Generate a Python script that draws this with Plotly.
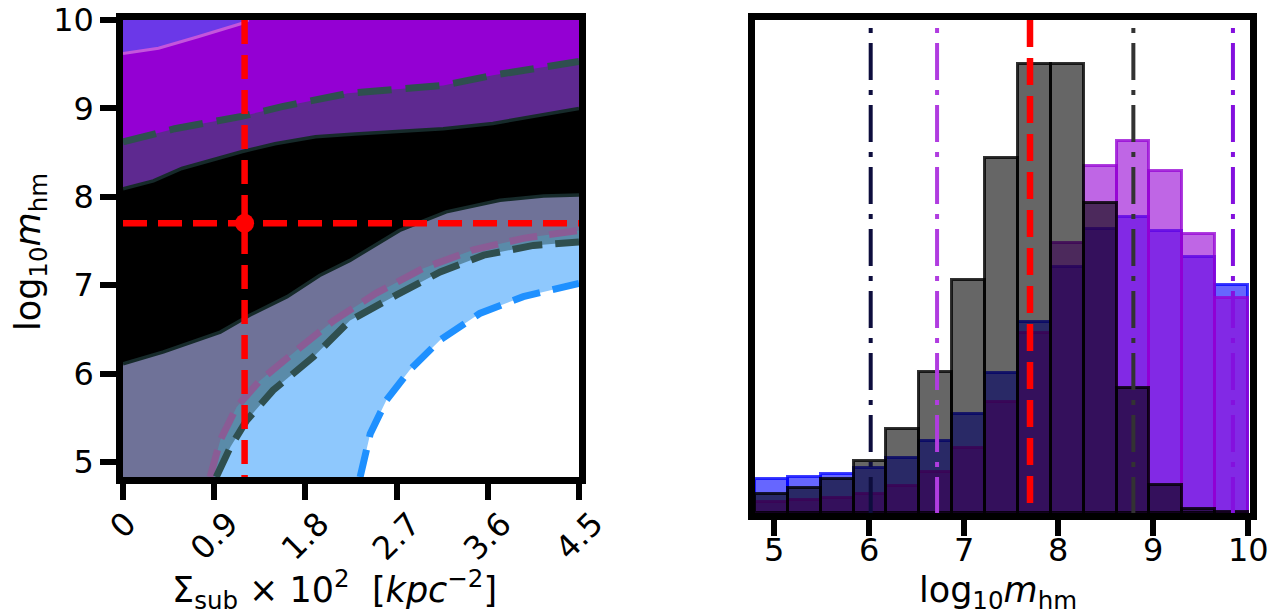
import plotly.graph_objects as go

W, H = 1279, 616
OFF = 8                      # default page body margin of the html page
FW, FH = W - OFF, H - OFF    # figure size that fits inside the window
FONT = "DejaVu Sans"

# ---------------- Left panel: credible-region boundaries -------------
orchid_top_x = [0.00, 0.35, 0.74, 1.17, 1.24]
orchid_top_y = [9.62, 9.68, 9.81, 9.96, 10.00]

slate_upper_x = [0.00, 0.51, 1.17, 1.57, 2.22, 2.51, 3.16, 3.65, 4.15, 4.50]
slate_upper_y = [8.62, 8.77, 8.91, 9.02, 9.17, 9.20, 9.26, 9.375, 9.47, 9.53]

black_upper_x = [0.00, 0.30, 0.58, 1.17, 1.50, 1.90, 2.29, 3.16, 3.65, 3.99, 4.50]
black_upper_y = [8.09, 8.18, 8.32, 8.51, 8.60, 8.68, 8.71, 8.77, 8.83, 8.90, 9.00]

black_lower_x = [0.00, 0.40, 0.96, 1.25, 1.62, 1.94, 2.24, 2.73, 3.19, 3.72, 4.15, 4.50]
black_lower_y = [6.11, 6.245, 6.47, 6.66, 6.87, 7.11, 7.28, 7.62, 7.83, 7.96, 8.01, 8.02]

pink_x = [0.86, 0.96, 1.12, 1.35, 1.71, 2.08, 2.50, 2.96, 3.46, 3.95, 4.50]
pink_y = [4.83, 5.245, 5.62, 5.92, 6.26, 6.60, 6.91, 7.19, 7.40, 7.53, 7.62]

slate_lower_x = [0.92, 1.06, 1.22, 1.48, 1.88, 2.24, 2.70, 3.13, 3.56, 4.05, 4.50]
slate_lower_y = [4.83, 5.17, 5.47, 5.81, 6.19, 6.60, 6.89, 7.15, 7.34, 7.45, 7.49]

blue_x = [2.34, 2.44, 2.60, 2.83, 3.13, 3.52, 3.95, 4.50]
blue_y = [4.83, 5.32, 5.70, 6.04, 6.38, 6.68, 6.87, 7.02]

truth_sigma = 1.2
truth_logm = 7.7

left_xticks = [0, 0.9, 1.8, 2.7, 3.6, 4.5]
left_xticklabels = ["0", "0.9", "1.8", "2.7", "3.6", "4.5"]
left_yticks = [5, 6, 7, 8, 9, 10]

# ---------------- Right panel: histograms (density) -------------
bin_lo, bin_hi, n_bins = 4.8, 10.0, 15
dens_blue = [0.043, 0.045, 0.049, 0.056, 0.069, 0.090, 0.124, 0.175, 0.239, 0.307,
             0.355, 0.369, 0.352, 0.319, 0.285]
dens_purple = [0.014, 0.016, 0.019, 0.024, 0.034, 0.051, 0.081, 0.139, 0.225, 0.337,
               0.433, 0.465, 0.427, 0.348, 0.268]
dens_black = [0.024, 0.031, 0.043, 0.065, 0.105, 0.176, 0.291, 0.443, 0.560, 0.560,
              0.387, 0.156, 0.035, 0.005, 0.001]

vline_x = [6.02, 6.72, 8.79, 9.84]
vline_colors = ["#0d0d3d", "#b03ce0", "#333333", "#8410de"]
right_xticks = [5, 6, 7, 8, 9, 10]
right_xticklabels = ["5", "6", "7", "8", "9", "10"]


# ---------------- Layout geometry (page pixels -> paper fractions) ----------------
def fx(px):
    return (px - OFF) / FW


def fy(py):
    return 1 - (py - OFF) / FH


L_X = [fx(123), fx(579)]
L_Y = [fy(477), fy(20)]
R_X = [fx(755), fx(1250)]
R_Y = [fy(513), fy(20)]

XMIN, XMAX, YMIN, YMAX = 0.0, 4.5, 4.83, 10.0

fig = go.Figure()


def region_above(xs, ys, from_bottom):
    ext = 0.3
    px, py = [], []
    if from_bottom:
        px += [XMIN - ext, xs[0]]
        py += [YMIN - ext, YMIN - ext]
    else:
        px += [XMIN - ext]
        py += [ys[0]]
    px += list(xs)
    py += list(ys)
    if xs[-1] >= XMAX:
        px += [XMAX + ext, XMAX + ext]
        py += [ys[-1], YMAX + ext]
    else:
        px += [xs[-1]]
        py += [YMAX + ext]
    px += [XMIN - ext]
    py += [YMAX + ext]
    return px, py


fills = [
    (blue_x, blue_y, True, "#8ec8fd"),
    (slate_lower_x, slate_lower_y, True, "#5a8ba9"),
    (pink_x, pink_y, True, "#6f7298"),
    (black_lower_x, black_lower_y, False, "#000000"),
    (black_upper_x, black_upper_y, False, "#5e2990"),
    (slate_upper_x, slate_upper_y, False, "#9400d3"),
    (orchid_top_x, orchid_top_y, False, "#6b38e8"),
]
for xs, ys, fb, col in fills:
    px, py = region_above(xs, ys, fb)
    fig.add_trace(go.Scatter(x=px, y=py, mode="lines", fill="toself", fillcolor=col,
                             line=dict(width=0, color=col), hoverinfo="skip",
                             showlegend=False, xaxis="x", yaxis="y"))

lines = [
    (orchid_top_x, orchid_top_y, "#c455dc", 3, "solid"),
    (black_upper_x, black_upper_y, "#162a2a", 3.5, "solid"),
    (black_lower_x, black_lower_y, "#162a2a", 3.5, "solid"),
    (pink_x, pink_y, "#8a5c95", 7, "28px,12px"),
    (slate_lower_x, slate_lower_y, "#2f4f4f", 7, "30px,13px"),
    (slate_upper_x, slate_upper_y, "#2f4f4f", 7, "34px,14px"),
    (blue_x, blue_y, "#1e90ff", 7, "28px,13px"),
]
for xs, ys, col, w, dash in lines:
    fig.add_trace(go.Scatter(x=xs, y=ys, mode="lines",
                             line=dict(color=col, width=w, dash=dash),
                             hoverinfo="skip", showlegend=False, xaxis="x", yaxis="y"))

fig.add_trace(go.Scatter(x=[truth_sigma], y=[truth_logm], mode="markers",
                         marker=dict(color="red", size=19), showlegend=False,
                         xaxis="x", yaxis="y"))

# red truth lines (left)
fig.add_shape(type="line", xref="x", yref="y domain", x0=truth_sigma, x1=truth_sigma,
              y0=1, y1=0, line=dict(color="red", width=6.5, dash="24px,11px"), layer="above")
fig.add_shape(type="line", xref="x domain", yref="y", x0=0, x1=1, y0=truth_logm,
              y1=truth_logm, line=dict(color="red", width=6.5, dash="24px,11px"), layer="above")

# ---------------- Right panel bars ----------------
bw = (bin_hi - bin_lo) / n_bins
centers = [bin_lo + bw * (i + 0.5) for i in range(n_bins)]
hists = [
    (dens_blue, "rgba(0,0,255,0.6)", "rgba(0,0,255,0.75)"),
    (dens_purple, "rgba(148,0,211,0.6)", "rgba(148,0,211,0.75)"),
    (dens_black, "rgba(0,0,0,0.6)", "rgba(0,0,0,0.8)"),
]
for vals, fc, lc in hists:
    fig.add_trace(go.Bar(x=centers, y=vals, width=bw,
                         marker=dict(color=fc, line=dict(color=lc, width=3)),
                         showlegend=False, xaxis="x2", yaxis="y2", hoverinfo="skip"))

for xv, col in zip(vline_x, vline_colors):
    fig.add_shape(type="line", xref="x2", yref="y2 domain", x0=xv, x1=xv, y0=1, y1=0,
                  line=dict(color=col, width=4, dash="0px,8px,5px,10px,37px,2px"), layer="above")
fig.add_shape(type="line", xref="x2", yref="y2 domain", x0=truth_logm, x1=truth_logm, y0=1, y1=0,
              line=dict(color="red", width=6.5, dash="27px,11px"), layer="above")

TICK_SIZE = 32
TITLE_SIZE = 35
axis_common = dict(showline=True, linecolor="black", linewidth=6.5, mirror=True,
                   showgrid=False, zeroline=False, ticks="outside", ticklen=16, tickwidth=5.5,
                   tickcolor="black", automargin=False, ticklabeloverflow="allow",
                   tickfont=dict(family=FONT, size=TICK_SIZE, color="black"))

fig.update_layout(
    width=FW, height=FH, margin=dict(l=0, r=0, t=0, b=0, autoexpand=False),
    paper_bgcolor="white", plot_bgcolor="white", barmode="overlay", bargap=0,
    xaxis=dict(domain=L_X, range=[XMIN, XMAX], tickvals=left_xticks, showticklabels=False,
               anchor="y", **axis_common),
    yaxis=dict(domain=L_Y, range=[YMIN, YMAX], tickvals=left_yticks, anchor="x", **axis_common),
    xaxis2=dict(domain=R_X, range=[4.8, 10.02], tickvals=right_xticks, showticklabels=False,
                anchor="y2", **axis_common),
    yaxis2=dict(domain=R_Y, range=[0, 0.6155], anchor="x2", showticklabels=False,
                **{k: v for k, v in axis_common.items() if k not in ("ticks",)}, ticks=""),
    font=dict(family=FONT, color="black"),
)

tick_font = dict(family=FONT, size=TICK_SIZE, color="black")
# rotated tick labels of the left x axis, centred under their ticks
for tv, tl in zip(left_xticks, left_xticklabels):
    fig.add_annotation(text=tl, xref="x", yref="paper", x=tv, y=fy(502), textangle=-45,
                       showarrow=False, xanchor="center", yanchor="top", font=tick_font)
# tick labels of the right x axis
for tv, tl in zip(right_xticks, right_xticklabels):
    fig.add_annotation(text=tl, xref="x2", yref="paper", x=tv, y=fy(550),
                       showarrow=False, xanchor="center", yanchor="middle", font=tick_font)

title_font = dict(family=FONT, size=TITLE_SIZE, color="black")
fig.add_annotation(text="log<sub>10</sub><i>m</i><sub>hm</sub>", xref="paper", yref="paper",
                   x=fx(30), y=fy(252), textangle=-90, showarrow=False, font=title_font,
                   xanchor="center", yanchor="middle")
fig.add_annotation(text="Σ<sub>sub</sub> × 10<sup>2</sup>  [<i>kpc</i><sup>−2</sup>]", xref="paper",
                   yref="paper", x=fx(334), y=fy(589), showarrow=False, font=title_font,
                   xanchor="center", yanchor="middle")
fig.add_annotation(text="log<sub>10</sub><i>m</i><sub>hm</sub>", xref="paper", yref="paper",
                   x=fx(998), y=fy(592), showarrow=False, font=title_font,
                   xanchor="center", yanchor="middle")

fig.write_html("out.html")
